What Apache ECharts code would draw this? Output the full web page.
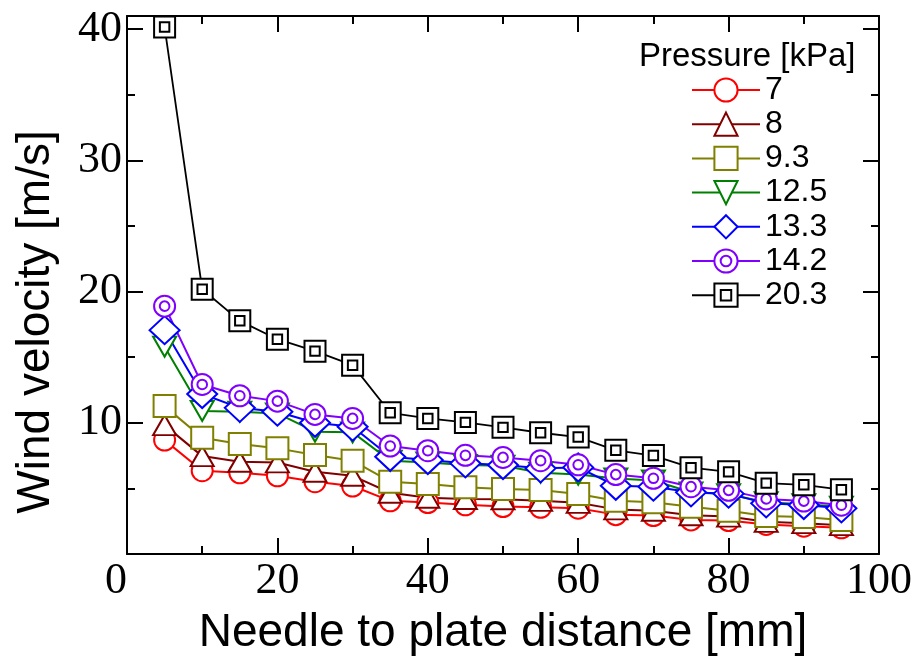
<!DOCTYPE html>
<html>
<head>
<meta charset="utf-8">
<script src="https://cdn.jsdelivr.net/npm/echarts@6/dist/echarts.min.js"></script>
<style>
  html, body { margin: 0; padding: 0; background: #fff; }
  #chart { width: 916px; height: 664px; }
</style>
</head>
<body>
<div id="chart"></div>
<script>
// Needle-to-plate distance [mm]
const distance = [5, 10, 15, 20, 25, 30, 35, 40, 45, 50, 55, 60, 65, 70, 75, 80, 85, 90, 95];

// Wind velocity [m/s] for each pressure
const v7   = [8.68, 6.35, 6.19, 5.96, 5.51, 5.18, 4.05, 3.92, 3.75, 3.62, 3.56, 3.49, 3.00, 2.93, 2.60, 2.55, 2.25, 2.12, 2.00];
const v8   = [9.82, 7.46, 7.03, 6.98, 6.27, 5.96, 4.67, 4.29, 4.19, 4.17, 4.05, 3.90, 3.40, 3.30, 2.95, 2.85, 2.45, 2.35, 2.20];
const v9_3 = [11.27, 8.86, 8.38, 8.05, 7.54, 7.11, 5.51, 5.33, 5.08, 4.95, 4.87, 4.57, 4.05, 3.95, 3.60, 3.30, 2.90, 2.82, 2.60];
const v12_5 = [15.8, 10.9, 10.84, 10.71, 9.32, 9.27, 7.11, 6.98, 6.78, 6.73, 6.20, 6.05, 5.75, 5.60, 4.70, 4.55, 3.95, 3.80, 3.60];
const v13_3 = [17.06, 12.19, 11.14, 10.84, 10.0, 9.70, 7.41, 7.16, 6.91, 6.78, 6.53, 6.60, 5.20, 5.13, 4.70, 4.60, 3.86, 3.73, 3.48];
const v14_2 = [18.89, 12.92, 12.06, 11.65, 10.64, 10.33, 8.23, 7.87, 7.52, 7.36, 7.11, 6.80, 6.05, 5.77, 5.13, 4.85, 4.20, 4.03, 3.72];
const v20_3 = [40.16, 20.18, 17.77, 16.37, 15.46, 14.39, 10.76, 10.33, 10.03, 9.65, 9.24, 8.91, 7.90, 7.50, 6.58, 6.26, 5.40, 5.27, 4.90];

const pressureLabels = ['7', '8', '9.3', '12.5', '13.3', '14.2', '20.3'];
const pressureValues = [v7, v8, v9_3, v12_5, v13_3, v14_2, v20_3];

// Marker look per pressure
const colors = ['#ff0000', '#800000', '#808000', '#008000', '#0000ff', '#8000ff', '#000000'];
const symbols = [
  'circle',
  'triangle',
  'rect',
  'path://M0,0L23,0L11.5,20Z',
  'diamond',
  'path://M20,10A10,10,0,1,1,0,10A10,10,0,1,1,20,10ZM14.6,10A4.6,4.6,0,1,1,5.4,10A4.6,4.6,0,1,1,14.6,10Z',
  'path://M0,0H20V20H0ZM5.5,5.5H14.5V14.5H5.5Z'
];
const symbolSizes = [21, [23, 20], 22, [23, 20], [30, 28], 21, 21];
const lineWidths = [2, 2, 2, 2, 2, 2, 1.8];

const sansFont = "'Liberation Sans', Arial, sans-serif";
const serifFont = "'Liberation Serif', 'Times New Roman', serif";

const series = pressureLabels.map((name, i) => ({
  name: name,
  type: 'line',
  xAxisIndex: 0,
  yAxisIndex: 0,
  data: distance.map((d, k) => [d, pressureValues[i][k]]),
  symbol: symbols[i],
  symbolSize: symbolSizes[i],
  showAllSymbol: true,
  lineStyle: { color: colors[i], width: lineWidths[i] },
  itemStyle: { color: '#ffffff', borderColor: colors[i], borderWidth: 2 },
  emphasis: { disabled: true }
}));

// Box frame: every axis keeps its own edge instead of jumping to zero
const frameLine = { show: true, onZero: false, lineStyle: { color: '#000', width: 2 } };
const noLine = { show: false, onZero: false };

function inwardTicks(len) {
  return { show: true, inside: true, length: len, lineStyle: { color: '#000', width: 2 } };
}
const minorX = { show: true, splitNumber: 2, length: 8, lineStyle: { color: '#000', width: 2 } };

const option = {
  animation: false,
  backgroundColor: '#ffffff',
  grid: { left: 127, top: 16, width: 752, height: 538, containLabel: false },
  title: {
    text: 'Pressure [kPa]',
    left: 634,
    top: 35,
    textStyle: { fontFamily: sansFont, fontSize: 33, fontWeight: 'normal', color: '#000' }
  },
  legend: {
    orient: 'vertical',
    left: 691,
    top: 74,
    padding: 0,
    itemWidth: 68,
    itemHeight: 29,
    itemGap: 2.2,
    data: pressureLabels,
    textStyle: { fontFamily: sansFont, fontSize: 32, color: '#000' }
  },
  xAxis: [
    {
      type: 'value', position: 'bottom', min: 0, max: 100, interval: 20,
      axisLine: frameLine,
      axisTick: inwardTicks(16),
      minorTick: minorX,
      splitLine: { show: false },
      axisLabel: {
        show: true, margin: 5, color: '#000', fontFamily: serifFont, fontSize: 44,
        alignMinLabel: 'right'
      },
      name: 'Needle to plate distance [mm]',
      nameLocation: 'middle',
      nameGap: 56,
      nameTextStyle: { fontFamily: sansFont, fontSize: 46, color: '#000' }
    },
    {
      type: 'value', position: 'top', min: 0, max: 100, interval: 20,
      axisLine: frameLine,
      axisTick: inwardTicks(16),
      minorTick: minorX,
      splitLine: { show: false },
      axisLabel: { show: false }
    }
  ],
  yAxis: [
    {
      type: 'value', position: 'left', min: 0, max: 41, interval: 10,
      axisLine: frameLine,
      axisTick: inwardTicks(16),
      splitLine: { show: false },
      axisLabel: {
        show: true, margin: 5, color: '#000', fontFamily: serifFont, fontSize: 44,
        formatter: v => (v > 0 && v % 10 === 0) ? String(v) : ''
      },
      name: 'Wind velocity [m/s]',
      nameLocation: 'middle',
      nameGap: 68,
      nameTextStyle: { fontFamily: sansFont, fontSize: 46, color: '#000', padding: [0, 74, 0, 0] }
    },
    {
      type: 'value', position: 'left', min: 0, max: 41, interval: 5,
      axisLine: noLine,
      axisTick: inwardTicks(8),
      splitLine: { show: false },
      axisLabel: { show: false }
    },
    {
      type: 'value', position: 'right', min: 0, max: 41, interval: 10,
      axisLine: frameLine,
      axisTick: inwardTicks(16),
      splitLine: { show: false },
      axisLabel: { show: false }
    },
    {
      type: 'value', position: 'right', min: 0, max: 41, interval: 5,
      axisLine: noLine,
      axisTick: inwardTicks(8),
      splitLine: { show: false },
      axisLabel: { show: false }
    }
  ],
  series: series
};

const chart = echarts.init(document.getElementById('chart'), null, { renderer: 'canvas' });
chart.setOption(option);
</script>
</body>
</html>
